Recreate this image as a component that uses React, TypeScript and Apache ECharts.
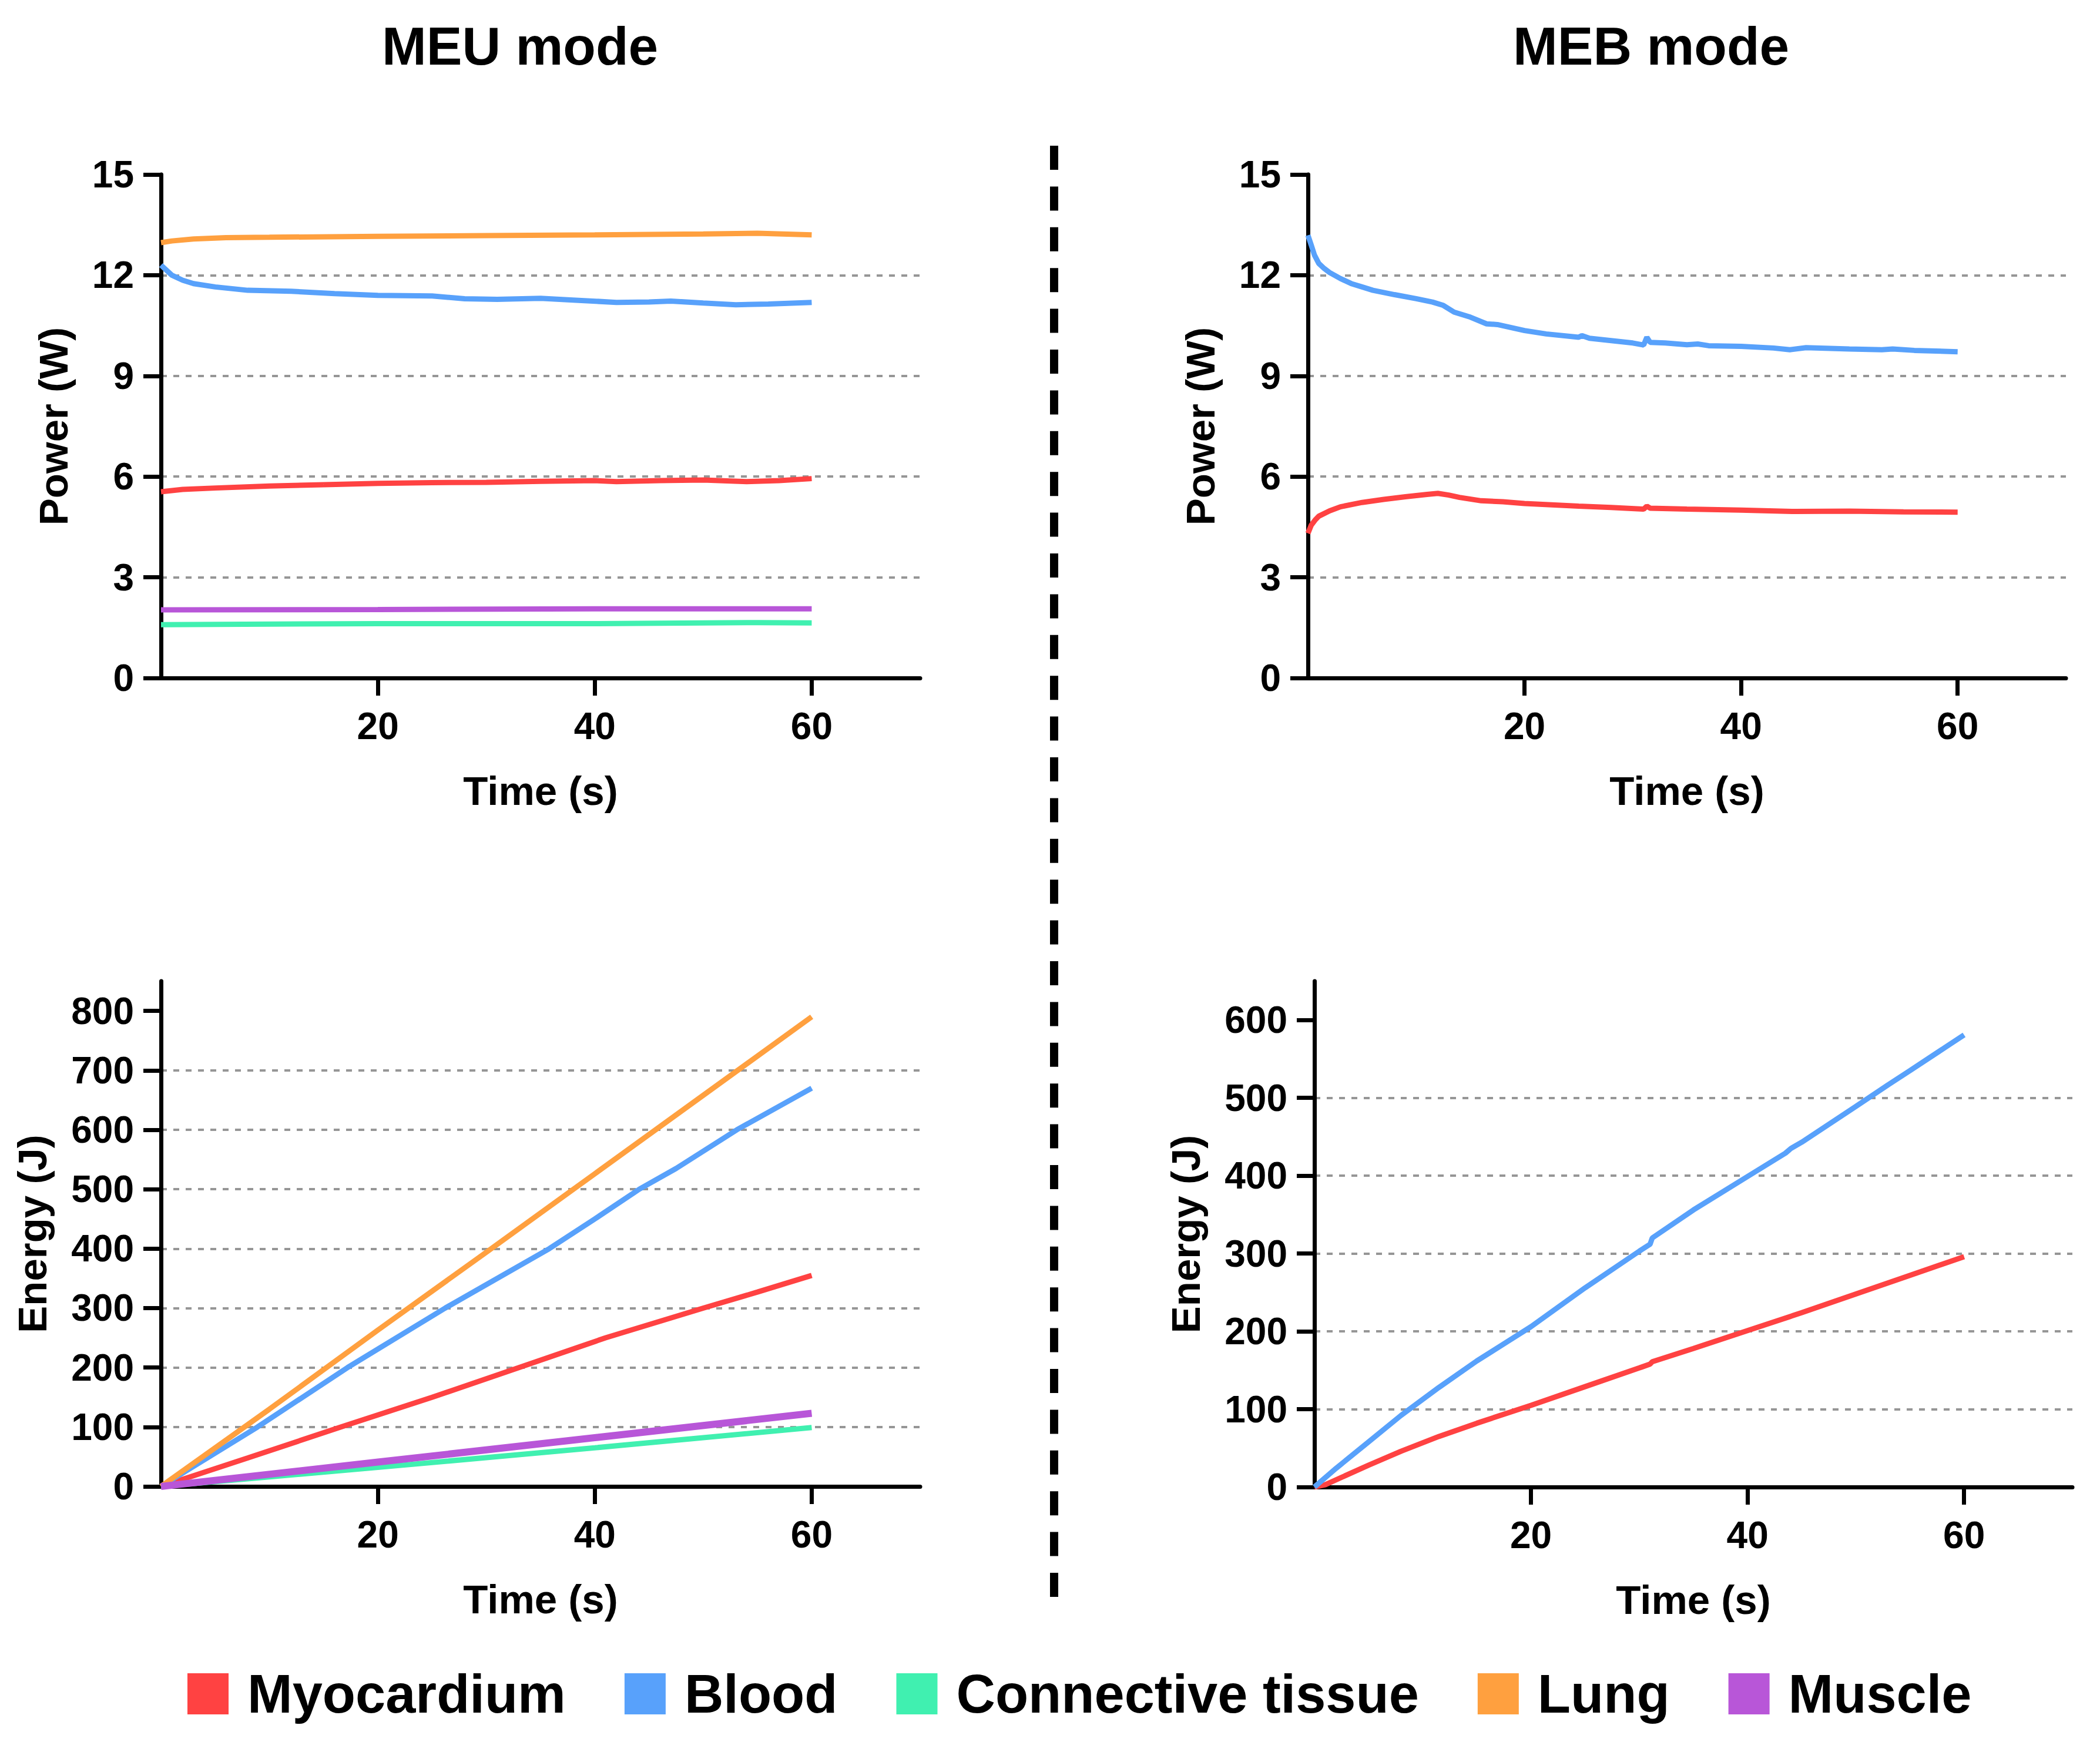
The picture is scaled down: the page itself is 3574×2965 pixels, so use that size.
import React, { useEffect, useRef } from "react";
import * as echarts from "echarts";

const SERIES_NAMES = ["Myocardium", "Blood", "Connective tissue", "Lung", "Muscle"];
const COLORS = ["#FF4242", "#58A1FB", "#40F0B0", "#FFA03F", "#B856D8"];

const xTicks = [20, 40, 60];
const powerTicks = [0, 3, 6, 9, 12, 15];
const energyTicksMEU = [0, 100, 200, 300, 400, 500, 600, 700, 800];
const energyTicksMEB = [0, 100, 200, 300, 400, 500, 600];

// MEU power (W)
const myoPowerMEU = [[0, 5.55], [2, 5.62], [5, 5.66], [10, 5.72], [15, 5.76], [20, 5.8], [25, 5.82], [30, 5.83], [35, 5.86], [40, 5.88], [42, 5.85], [46, 5.88], [50, 5.9], [54, 5.85], [57, 5.88], [60, 5.94]];
const bloodPowerMEU = [[0, 12.3], [0.5, 12.15], [1, 12.0], [2, 11.85], [3, 11.75], [5, 11.65], [8, 11.55], [12, 11.52], [16, 11.45], [20, 11.4], [25, 11.38], [28, 11.3], [31, 11.28], [35, 11.31], [38, 11.26], [42, 11.19], [45, 11.2], [47, 11.23], [50, 11.17], [53, 11.12], [56, 11.14], [60, 11.19]];
const connPowerMEU = [[0, 1.59], [20, 1.62], [40, 1.62], [55, 1.65], [60, 1.64]];
const lungPowerMEU = [[0, 12.97], [1, 13.02], [3, 13.08], [6, 13.12], [10, 13.13], [20, 13.16], [30, 13.18], [40, 13.2], [50, 13.23], [55, 13.25], [60, 13.2]];
const musclePowerMEU = [[0, 2.03], [20, 2.04], [40, 2.06], [60, 2.06]];

// MEB power (W)
const myoPowerMEB = [[0, 4.31], [0.3, 4.55], [0.7, 4.72], [1, 4.82], [2, 4.98], [3, 5.1], [5, 5.23], [7, 5.32], [9, 5.4], [11, 5.47], [12, 5.5], [13, 5.45], [14, 5.38], [16, 5.28], [18, 5.25], [20, 5.2], [25, 5.12], [28, 5.08], [31, 5.03], [31.3, 5.12], [31.6, 5.06], [35, 5.03], [40, 5.0], [45, 4.96], [50, 4.97], [55, 4.95], [60, 4.94]];
const bloodPowerMEB = [[0, 13.19], [0.3, 12.9], [0.6, 12.6], [1, 12.35], [1.5, 12.2], [2, 12.08], [3, 11.9], [4, 11.75], [5, 11.65], [6, 11.55], [8, 11.42], [10, 11.3], [11.5, 11.2], [12.5, 11.1], [13.5, 10.9], [15, 10.75], [16.5, 10.55], [17.5, 10.53], [20, 10.35], [22, 10.25], [25, 10.15], [25.3, 10.2], [26, 10.12], [28, 10.05], [30, 9.98], [31, 9.92], [31.3, 10.15], [31.6, 10.0], [33, 9.98], [35, 9.93], [36, 9.95], [37, 9.9], [40, 9.88], [43, 9.83], [44.5, 9.78], [46, 9.84], [50, 9.8], [53, 9.78], [54, 9.8], [56, 9.76], [60, 9.72]];

// MEU energy (J)
const myoEnergyMEU = [[0, 0], [8, 48], [16.6, 100], [25, 150], [33, 200], [41, 250], [50, 300], [55, 327], [60, 355]];
const bloodEnergyMEU = [[0, 0], [8.9, 100], [17.2, 200], [26.2, 300], [35.8, 400], [40, 450], [44.1, 500], [47.5, 535], [53.1, 600], [60, 670]];
const connEnergyMEU = [[0, 0], [20, 32], [40, 65], [60, 99]];
const lungEnergyMEU = [[0, 0], [10, 130], [20, 263], [30, 394], [40, 526], [50, 658], [60, 790]];
const muscleEnergyMEU = [[0, 0], [20, 41], [40, 82], [60, 123]];

// MEB energy (J)
const myoEnergyMEB = [[0, 0], [1, 3], [5, 28], [8, 46], [11.5, 65], [15, 82], [20, 105], [25, 129], [30, 153], [31, 158], [31.2, 161], [35, 178], [40, 201], [45, 224], [50, 248], [55, 272], [60, 296]];
const bloodEnergyMEB = [[0, 0], [2, 24], [5, 58], [8, 92], [11.5, 128], [15, 162], [20, 206], [25, 256], [30, 303], [31, 312], [31.2, 320], [35, 356], [40, 399], [43.5, 429], [44, 435], [45, 443], [50, 489], [53, 517], [55, 535], [60, 581]];

const FONT = "'Liberation Sans', Arial, sans-serif";

export default function App() {
  const ref = useRef<HTMLDivElement>(null);

  useEffect(() => {
    document.body.style.margin = "0";
    if (!ref.current) return;
    const chart = echarts.init(ref.current, null, { renderer: "svg" });

    const grids = [
      { left: 274, top: 297, width: 1292, height: 857 },
      { left: 2226, top: 297, width: 1290, height: 857 },
      { left: 274, top: 1670, width: 1292, height: 860 },
      { left: 2237, top: 1670, width: 1290, height: 861 },
    ];

    const axisLineStyle = { show: true, lineStyle: { color: "#000", width: 7 } };
    const tickStyle = { show: true, length: 30, lineStyle: { color: "#000", width: 7 } };
    const labelStyle = { fontSize: 64, fontWeight: "bold", color: "#000", fontFamily: FONT };
    const nameStyle = { fontSize: 69, fontWeight: "bold", color: "#000", fontFamily: FONT };

    const xAxes = grids.map((_, i) => ({
      type: "value",
      gridIndex: i,
      min: 0,
      max: 70,
      name: "Time (s)",
      nameLocation: "middle",
      nameGap: 158,
      nameTextStyle: nameStyle,
      axisLine: { ...axisLineStyle, onZero: false },
      axisTick: { ...tickStyle, customValues: xTicks },
      axisLabel: { ...labelStyle, margin: 50, customValues: xTicks },
      splitLine: { show: false },
    }));

    const yDefs = [
      { max: 15, ticks: powerTicks, name: "Power (W)", gap: 148 },
      { max: 15, ticks: powerTicks, name: "Power (W)", gap: 148 },
      { max: 850, ticks: energyTicksMEU, name: "Energy (J)", gap: 184 },
      { max: 650, ticks: energyTicksMEB, name: "Energy (J)", gap: 184 },
    ];

    const yAxes = yDefs.map((d, i) => ({
      type: "value",
      gridIndex: i,
      min: 0,
      max: d.max,
      interval: d.max === 15 ? 3 : 100,
      name: d.name,
      nameLocation: "middle",
      nameGap: d.gap,
      nameTextStyle: nameStyle,
      axisLine: { ...axisLineStyle, onZero: false },
      axisTick: { ...tickStyle, customValues: d.ticks },
      axisLabel: { ...labelStyle, margin: 46, customValues: d.ticks },
      splitLine: {
        show: true,
        showMinLine: false,
        showMaxLine: false,
        lineStyle: { color: "#969696", width: 4, type: [10, 11] },
      },
    }));

    const mk = (name: string, data: number[][], gi: number, width = 9) => {
      const idx = SERIES_NAMES.indexOf(name);
      return {
        type: "line",
        name,
        xAxisIndex: gi,
        yAxisIndex: gi,
        data,
        showSymbol: false,
        symbol: "none",
        color: COLORS[idx],
        lineStyle: { color: COLORS[idx], width, cap: "butt" },
        z: 3,
      };
    };

    const series = [
      mk("Myocardium", myoPowerMEU, 0),
      mk("Blood", bloodPowerMEU, 0),
      mk("Connective tissue", connPowerMEU, 0),
      mk("Lung", lungPowerMEU, 0),
      mk("Muscle", musclePowerMEU, 0),
      mk("Myocardium", myoPowerMEB, 1),
      mk("Blood", bloodPowerMEB, 1),
      mk("Myocardium", myoEnergyMEU, 2),
      mk("Blood", bloodEnergyMEU, 2),
      mk("Connective tissue", connEnergyMEU, 2),
      mk("Lung", lungEnergyMEU, 2),
      mk("Muscle", muscleEnergyMEU, 2, 12),
      mk("Myocardium", myoEnergyMEB, 3),
      mk("Blood", bloodEnergyMEB, 3),
    ];

    chart.setOption({
      animation: false,
      backgroundColor: "#fff",
      grid: grids,
      xAxis: xAxes,
      yAxis: yAxes,
      series,
      legend: {
        data: SERIES_NAMES.map((n, i) => ({ name: n, itemStyle: { color: COLORS[i] } })),
        left: 319,
        top: 2837,
        padding: 0,
        icon: "rect",
        itemWidth: 70,
        itemHeight: 70,
        itemGap: 100,
        selectedMode: false,
        textStyle: {
          fontSize: 92,
          lineHeight: 92,
          fontWeight: "bold",
          color: "#000",
          fontFamily: FONT,
          padding: [0, 0, 0, 27],
        },
      },
      graphic: [
        {
          type: "text",
          x: 885,
          y: 78,
          style: {
            text: "MEU mode",
            fontSize: 91,
            fontWeight: "bold",
            fontFamily: FONT,
            fill: "#000",
            align: "center",
            verticalAlign: "middle",
          },
        },
        {
          type: "text",
          x: 2810,
          y: 78,
          style: {
            text: "MEB mode",
            fontSize: 91,
            fontWeight: "bold",
            fontFamily: FONT,
            fill: "#000",
            align: "center",
            verticalAlign: "middle",
          },
        },
        {
          type: "line",
          shape: { x1: 1794, y1: 248, x2: 1794, y2: 2718 },
          style: { stroke: "#000", lineWidth: 14, lineDash: [41, 28.4] },
        },
      ],
    });

    return () => chart.dispose();
  }, []);

  return <div ref={ref} style={{ width: 3574, height: 2965 }} />;
}
